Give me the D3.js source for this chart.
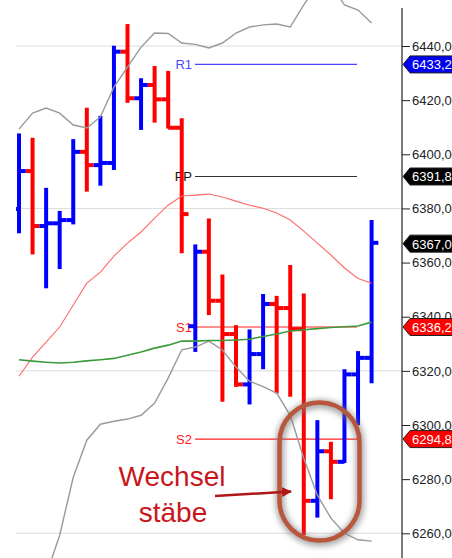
<!DOCTYPE html>
<html>
<head>
<meta charset="utf-8">
<script src="https://cdn.jsdelivr.net/npm/d3@7"></script>
<style>
  body { margin: 0; background: #fff; }
  svg { display: block; font-family: "Liberation Sans", Arial, sans-serif; }
</style>
</head>
<body>
<script>
// Bars (OHLC)
var opens  = [6379.8, 6393.8, 6373.5, 6374.5, 6375.7, 6400.9, 6396.0, 6396.8, 6437.9, 6420.7, 6425.6, 6420.3, 6409.8, 6336.5, 6364.0, 6345.9, 6333.6, 6315.0, 6326.2, 6344.7, 6343.2, 6335.4, 6272.0, 6290.3, 6286.4, 6318.7, 6324.8];
var highs  = [6407.7, 6406.1, 6387.6, 6379.1, 6405.6, 6417.2, 6414.2, 6440.1, 6448.1, 6428.1, 6432.6, 6430.8, 6413.3, 6366.7, 6376.3, 6355.6, 6336.9, 6335.3, 6348.4, 6347.7, 6359.1, 6348.6, 6301.8, 6293.8, 6320.6, 6327.3, 6375.7];
var lows   = [6370.8, 6363.0, 6350.5, 6357.6, 6374.1, 6386.2, 6388.4, 6394.2, 6419.0, 6409.0, 6411.7, 6409.5, 6363.4, 6327.0, 6340.6, 6308.6, 6314.1, 6307.6, 6320.6, 6311.7, 6310.4, 6259.3, 6265.8, 6272.6, 6286.0, 6299.9, 6315.4];
var closes = [6393.8, 6373.5, 6374.5, 6375.7, 6400.9, 6396.0, 6396.8, 6437.9, 6420.7, 6425.6, 6420.3, 6409.8, 6377.9, 6364.0, 6345.9, 6333.6, 6315.0, 6326.2, 6344.7, 6343.2, 6335.4, 6272.0, 6290.3, 6286.4, 6318.7, 6324.8, 6367.3];

// Indicator lines
var bandUpper = [6409.3, 6415.2, 6417.1, 6415.2, 6410.8, 6409.7, 6413.8, 6424.8, 6432.2, 6439.6, 6444.8, 6444.6, 6441.1, 6440.6, 6439.3, 6441.1, 6444.8, 6447.0, 6447.8, 6448.1, 6447.0, 6455.2, 6462.5, 6462.5, 6455.2, 6453.3, 6448.5];
var bandLower = [6220.5, 6231.6, 6244.5, 6259.3, 6280.7, 6294.4, 6300.3, 6301.4, 6302.2, 6303.6, 6308.1, 6317.3, 6327.8, 6328.8, 6331.0, 6327.7, 6321.4, 6316.2, 6314.2, 6311.8, 6303.6, 6287.7, 6274.1, 6265.6, 6260.0, 6257.6, 6257.1];
var fastAvg   = [6318.0, 6325.1, 6330.6, 6336.2, 6344.3, 6352.4, 6356.5, 6362.4, 6367.2, 6371.3, 6376.4, 6381.2, 6384.6, 6384.9, 6385.3, 6384.2, 6382.7, 6381.2, 6380.1, 6378.3, 6375.7, 6371.6, 6367.2, 6362.8, 6358.0, 6354.1, 6352.4];
var slowAvg   = [6324.1, 6323.6, 6323.2, 6322.9, 6323.2, 6323.7, 6324.1, 6324.6, 6325.8, 6327.0, 6328.4, 6329.5, 6331.0, 6331.0, 6331.2, 6331.2, 6331.4, 6331.7, 6332.7, 6333.6, 6334.7, 6335.2, 6335.6, 6336.0, 6336.3, 6336.6, 6338.0];

// Pivot levels
var pivotNames  = ["R1", "PP", "S1", "S2"];
var pivotValues = [6433.2, 6391.8, 6336.2, 6294.8];
var pivotColors = ["#4848ff", "#333333", "#ff2020", "#ff2020"];

// Right axis
var tickValues = [6260, 6280, 6300, 6320, 6340, 6360, 6380, 6400, 6420, 6440];
var gridValues = [6260, 6320, 6380, 6440];
var tagValues  = [6433.2, 6391.8, 6367.0, 6336.2, 6294.8];
var tagColors  = ["#0000f0", "#000000", "#000000", "#ff0000", "#ff0000"];

var w = 452, h = 558,
    plotLeft = 16, axisX = 402;

var x = d3.scaleLinear().domain([0, 26]).range([19, 371.6]);
var y = d3.scaleLinear().domain([6260, 6440]).range([533.3, 46]);
var half = (x(1) - x(0)) / 2;

var svg = d3.select('body').append('svg')
            .attr('width', w)
            .attr('height', h);

var defs = svg.append('defs');
defs.append('clipPath').attr('id', 'plot')
    .append('rect')
    .attr('x', plotLeft).attr('y', 0)
    .attr('width', axisX - plotLeft).attr('height', h);
defs.append('filter').attr('id', 'blur')
    .attr('x', '-30%').attr('y', '-30%').attr('width', '160%').attr('height', '160%')
    .append('feGaussianBlur').attr('stdDeviation', 3);
defs.append('marker').attr('id', 'head')
    .attr('viewBox', '0 0 10 10').attr('refX', 9).attr('refY', 5)
    .attr('markerWidth', 4).attr('markerHeight', 4).attr('orient', 'auto')
    .append('path').attr('d', 'M0,0L10,5L0,10z').attr('fill', '#b01818');

// gridlines
svg.append('g').selectAll('line')
   .data(gridValues).enter().append('line')
   .attr('x1', plotLeft).attr('x2', axisX)
   .attr('y1', function(d) { return y(d); })
   .attr('y2', function(d) { return y(d); })
   .attr('stroke', '#dcdcdc').attr('stroke-width', 1);

var plot = svg.append('g').attr('clip-path', 'url(#plot)');

// pivot lines
var pivots = plot.append('g');
pivotValues.forEach(function(v, i) {
  pivots.append('line')
        .attr('x1', 195).attr('x2', 357)
        .attr('y1', y(v)).attr('y2', y(v))
        .attr('stroke', pivotColors[i]).attr('stroke-width', 1.2);
  pivots.append('text')
        .attr('x', 192).attr('y', y(v) + 4.5)
        .attr('text-anchor', 'end')
        .attr('font-size', 13)
        .attr('fill', pivotColors[i] == '#333333' ? '#111' : pivotColors[i])
        .text(pivotNames[i]);
});

// OHLC bars
var bars = plot.append('g').selectAll('g')
   .data(d3.range(opens.length)).enter().append('g')
   .attr('stroke', function(i) { return closes[i] >= opens[i] ? '#0000ff' : '#ff0000'; })
   .attr('stroke-width', 4);
bars.append('line')
    .attr('x1', function(i) { return x(i); }).attr('x2', function(i) { return x(i); })
    .attr('y1', function(i) { return y(highs[i]); })
    .attr('y2', function(i) { return y(lows[i]); });
bars.append('line')
    .attr('x1', function(i) { return x(i) - half; }).attr('x2', function(i) { return x(i); })
    .attr('y1', function(i) { return y(opens[i]); })
    .attr('y2', function(i) { return y(opens[i]); });
bars.append('line')
    .attr('x1', function(i) { return x(i); }).attr('x2', function(i) { return x(i) + half; })
    .attr('y1', function(i) { return y(closes[i]); })
    .attr('y2', function(i) { return y(closes[i]); });

// indicator lines
var line = d3.line()
             .x(function(d, i) { return x(i); })
             .y(function(d) { return y(d); });
[[bandUpper, '#999999', 1.4], [bandLower, '#999999', 1.4],
 [fastAvg, '#ff6a6a', 1.1], [slowAvg, '#3c9a3c', 1.6]].forEach(function(s) {
  plot.append('path')
      .attr('d', line(s[0]))
      .attr('fill', 'none')
      .attr('stroke', s[1])
      .attr('stroke-width', s[2]);
});

// right axis
var yAxis = d3.axisRight(y)
              .tickValues(tickValues)
              .tickSize(8)
              .tickPadding(2)
              .tickFormat(function(d) { return d.toFixed(1).replace('.', ','); });
var ax = svg.append('g')
   .attr('class', 'y axis')
   .attr('transform', 'translate(' + axisX + ',0)')
   .call(yAxis);
ax.select('.domain').remove();
ax.selectAll('line').attr('stroke', '#222');
ax.selectAll('text').attr('font-size', 13).attr('fill', '#222')
  .attr('font-family', '"Liberation Sans", Arial, sans-serif');
svg.append('line')
   .attr('x1', axisX).attr('x2', axisX)
   .attr('y1', 8).attr('y2', h)
   .attr('stroke', '#222').attr('stroke-width', 1.2);

// price tags
var tags = svg.append('g').selectAll('g')
   .data(tagValues).enter().append('g')
   .attr('transform', function(d) { return 'translate(' + (axisX + 1) + ',' + y(d) + ')'; });
tags.append('path')
    .attr('d', 'M0,0L7,-8.5L60,-8.5L60,8.5L7,8.5Z')
    .attr('fill', function(d, i) { return tagColors[i]; })
    .attr('stroke', '#222').attr('stroke-width', 1);
tags.append('text')
    .attr('x', 9).attr('y', 5)
    .attr('font-size', 13).attr('fill', '#fff')
    .text(function(d) { return d.toFixed(1).replace('.', ','); });

// annotation
var note = svg.append('g');
note.append('rect')
    .attr('x', 280).attr('y', 404).attr('width', 80).attr('height', 138)
    .attr('rx', 40).attr('ry', 40)
    .attr('fill', 'none').attr('stroke', '#777').attr('stroke-width', 8)
    .attr('opacity', 0.7).attr('filter', 'url(#blur)');
note.append('rect')
    .attr('x', 279.5).attr('y', 402.5).attr('width', 80).attr('height', 138)
    .attr('rx', 40).attr('ry', 40)
    .attr('fill', 'none').attr('stroke', '#b9573d').attr('stroke-width', 4.5);
note.append('line')
    .attr('x1', 215).attr('y1', 496).attr('x2', 291).attr('y2', 491.5)
    .attr('stroke', '#b01818').attr('stroke-width', 2.5)
    .attr('marker-end', 'url(#head)');
note.append('text')
    .attr('x', 172).attr('y', 486)
    .attr('text-anchor', 'middle').attr('font-size', 28).attr('fill', '#c8161c')
    .text('Wechsel');
note.append('text')
    .attr('x', 173).attr('y', 522)
    .attr('text-anchor', 'middle').attr('font-size', 28).attr('fill', '#c8161c')
    .text('stäbe');
</script>
</body>
</html>
